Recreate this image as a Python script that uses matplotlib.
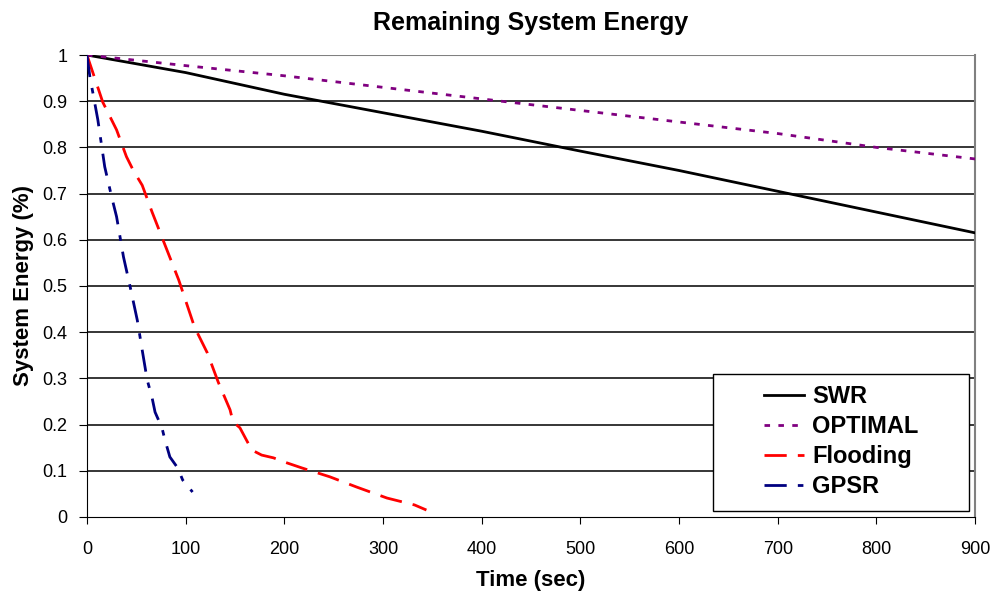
import matplotlib.pyplot as plt
from matplotlib.patches import Rectangle

# time (sec) and remaining energy
swr_t = [0, 100, 200, 300, 400, 500, 600, 700, 800, 900]
swr_e = [1.0, 0.962, 0.915, 0.875, 0.835, 0.792, 0.75, 0.705, 0.66, 0.615]

opt_t = [0, 100, 200, 300, 400, 500, 600, 700, 800, 900]
opt_e = [1.0, 0.977, 0.955, 0.93, 0.905, 0.88, 0.855, 0.83, 0.80, 0.775]

flood_t = [0, 16, 30, 40, 47, 56, 66, 77, 93, 109, 122, 133, 145, 148, 155,
           167, 177, 189, 200, 218, 246, 273, 304, 332, 344]
flood_e = [1.0, 0.898, 0.838, 0.78, 0.75, 0.718, 0.66, 0.60, 0.513, 0.411,
           0.355, 0.292, 0.232, 0.206, 0.193, 0.145, 0.134, 0.128, 0.119,
           0.106, 0.087, 0.065, 0.041, 0.026, 0.015]

gpsr_t = [0, 3, 6, 11, 18, 25, 30, 37, 44, 51, 56, 61, 66, 69, 76, 79, 84,
          92, 97, 107]
gpsr_e = [1.0, 0.952, 0.918, 0.86, 0.758, 0.693, 0.65, 0.563, 0.496, 0.426,
          0.361, 0.297, 0.258, 0.227, 0.193, 0.167, 0.13, 0.106, 0.08, 0.054]

plt.rcParams['font.family'] = ['Liberation Sans', 'DejaVu Sans']

fig = plt.figure(figsize=(9.95, 5.96), dpi=100)
ax = fig.add_axes([0.0874, 0.1326, 0.8926, 0.7751])

for y in [i / 10 for i in range(1, 10)]:
    ax.axhline(y, color='black', lw=1.1, zorder=1)
ax.axhline(1.0, color='#808080', lw=1.5, zorder=1)

ax.plot(swr_t, swr_e, color='black', lw=2, label='SWR', zorder=3)
ax.plot(opt_t, opt_e, color='#800080', lw=2, linestyle=(0, (2, 3)), label='OPTIMAL', zorder=3)
ax.plot(flood_t, flood_e, color='#ff0000', lw=2, linestyle=(0, (8, 4)), label='Flooding', zorder=3)
ax.plot(gpsr_t, gpsr_e, color='#000080', lw=2, linestyle=(0, (8, 4, 2, 4)), label='GPSR', zorder=3)

ax.set_xlim(0, 900)
ax.set_ylim(0, 1)
ax.set_xticks(range(0, 1000, 100))
ax.set_yticks([i / 10 for i in range(0, 11)])
ax.set_yticklabels(['0', '0.1', '0.2', '0.3', '0.4', '0.5', '0.6', '0.7', '0.8', '0.9', '1'])
ax.tick_params(labelsize=13, direction='out', color='black')
ax.tick_params(axis='x', length=5, pad=12)
ax.tick_params(axis='y', length=6, pad=8)

ax.spines['top'].set_visible(False)
ax.spines['right'].set_color('#808080')
ax.spines['right'].set_linewidth(1.5)
ax.spines['left'].set_color('black')
ax.spines['bottom'].set_color('black')

ax.set_title('Remaining System Energy', fontsize=18, fontweight='bold', pad=18)
ax.set_xlabel('Time (sec)', fontsize=16, fontweight='bold', labelpad=9)
ax.set_ylabel('System Energy (%)', fontsize=16, fontweight='bold', labelpad=6)

# legend box drawn separately so the entries sit centred in a wide frame
ax.add_patch(Rectangle((0.705, 0.013), 0.288, 0.2965, transform=ax.transAxes,
                       facecolor='white', edgecolor='black', lw=1, zorder=4.5))
leg = ax.legend(loc='center', bbox_to_anchor=(0.849, 0.163), frameon=False,
                prop={'size': 17, 'weight': 'bold'}, handlelength=1.7,
                handletextpad=0.35, labelspacing=0.3)
leg.set_zorder(5)

fig.savefig('out.png', dpi=100)
